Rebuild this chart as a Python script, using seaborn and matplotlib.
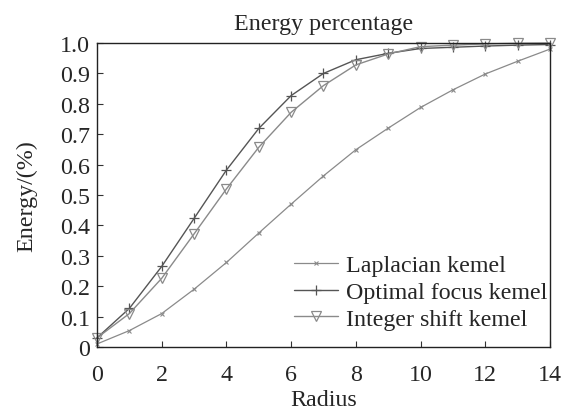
import matplotlib
matplotlib.use("Agg")
import matplotlib.pyplot as plt
import seaborn as sns
import pandas as pd

radius = list(range(15))
laplacian = [0.01, 0.054, 0.11, 0.19, 0.278, 0.375, 0.47, 0.563, 0.649, 0.72, 0.788, 0.846, 0.898, 0.94, 0.98]
optimal = [0.03, 0.127, 0.265, 0.423, 0.582, 0.719, 0.827, 0.90, 0.945, 0.966, 0.982, 0.986, 0.99, 0.993, 0.995]
integer = [0.03, 0.11, 0.226, 0.372, 0.52, 0.657, 0.772, 0.86, 0.928, 0.964, 0.988, 0.993, 0.997, 0.999, 1.0]

series_names = ["Laplacian kemel", "Optimal focus kemel", "Integer shift kemel"]
x_ticks = [0, 2, 4, 6, 8, 10, 12, 14]
y_ticks = [0, 0.1, 0.2, 0.3, 0.4, 0.5, 0.6, 0.7, 0.8, 0.9, 1.0]
y_tick_labels = ["0", "0.1", "0.2", "0.3", "0.4", "0.5", "0.6", "0.7", "0.8", "0.9", "1.0"]

sns.set_style("ticks")
plt.rcParams["font.family"] = ["Liberation Serif", "DejaVu Serif"]
plt.rcParams["xtick.direction"] = "in"
plt.rcParams["ytick.direction"] = "in"

FS = 17.3

fig = plt.figure(figsize=(5.75, 4.14), dpi=100, facecolor="white")
ax = fig.add_axes([0.1687, 0.1594, 0.7878, 0.7343])

styles = [
    dict(color="#8a8a8a", marker="x", markersize=3.5, linewidth=0.9, markeredgewidth=0.8),
    dict(color="#555555", marker="+", markersize=7, linewidth=1.0, markeredgewidth=0.9),
    dict(color="#8a8a8a", marker="v", markersize=7, linewidth=1.0, markeredgewidth=0.9,
         markerfacecolor="none"),
]
for name, vals, st in zip(series_names, [laplacian, optimal, integer], styles):
    df = pd.DataFrame({"Radius": radius, "Energy": vals})
    sns.lineplot(data=df, x="Radius", y="Energy", ax=ax, label=name, clip_on=False,
                 markeredgecolor=st["color"], **st)

ax.set_xlim(0, 14)
ax.set_ylim(0, 1.0)
ax.set_xticks(x_ticks)
ax.set_yticks(y_ticks)
ax.set_yticklabels(y_tick_labels)
ax.tick_params(axis="both", labelsize=FS, length=4, width=0.8, color="#333333",
               top=False, right=False)
ax.tick_params(axis="x", pad=12)
ax.tick_params(axis="y", pad=5)
for s in ax.spines.values():
    s.set_linewidth(1.0)
    s.set_color("#222222")

ax.set_title("Energy percentage", fontsize=FS, pad=10)
ax.set_xlabel("Radius", fontsize=FS, labelpad=3)
ax.set_ylabel("Energy/(%)", fontsize=FS, labelpad=16)

leg = ax.legend(loc="lower right", frameon=False, fontsize=FS, handlelength=1.85,
                handletextpad=0.35, labelspacing=0.2, borderaxespad=0.2,
                bbox_to_anchor=(1.027, 0.01))

fig.savefig("out.png", dpi=100, facecolor="white")
